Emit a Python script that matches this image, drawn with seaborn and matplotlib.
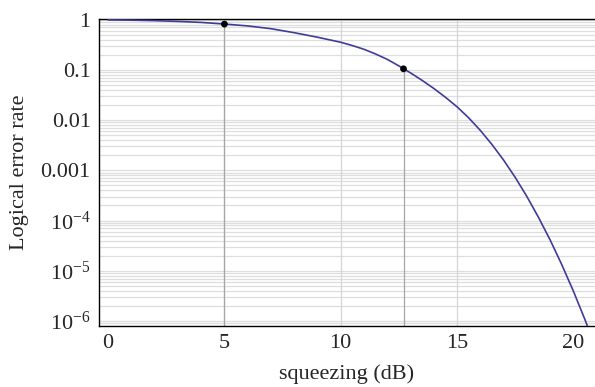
import numpy as np
import pandas as pd
import matplotlib
matplotlib.use("Agg")
import matplotlib.pyplot as plt
import matplotlib.ticker as mticker
import seaborn as sns

# values
squeezing_db = [0, 1, 2, 3, 4, 5, 6, 7, 8, 9, 10, 10.5, 11, 11.5, 12, 12.5, 13, 13.5,
                14, 14.5, 15, 15.5, 16, 16.5, 17, 17.5, 18, 18.5, 19, 19.5, 20, 20.5, 21]
error_rate = [0.989, 0.977, 0.955, 0.923, 0.881, 0.817, 0.750, 0.661, 0.550, 0.447,
              0.355, 0.305, 0.257, 0.207, 0.162, 0.120, 0.0871, 0.0617,
              0.0427, 0.0285, 0.0184, 0.0111, 6.24e-3, 3.27e-3, 1.60e-3, 7.24e-4,
              3.02e-4, 1.16e-4, 4.12e-5, 1.33e-5, 3.94e-6, 1.06e-6, 2.6e-7]
dot_db = [5, 12.7]
dot_rate = [0.817, 0.105]

x_ticks = [0, 5, 10, 15, 20]
y_ticks = [1, 0.1, 0.01, 0.001, 1e-4, 1e-5, 1e-6]
y_labels = ["1", "0.1", "0.01", "0.001", r"$10^{-4}$", r"$10^{-5}$", r"$10^{-6}$"]
x_grid = [5, 10, 15]

df = pd.DataFrame({"db": squeezing_db, "rate": error_rate})
dots = pd.DataFrame({"db": dot_db, "rate": dot_rate})

sns.set_style("white")
plt.rcParams["font.family"] = ["Liberation Serif", "DejaVu Serif"]
plt.rcParams["mathtext.fontset"] = "custom"
plt.rcParams["mathtext.rm"] = "Liberation Serif"
plt.rcParams["mathtext.it"] = "Liberation Serif:italic"

fig = plt.figure(figsize=(5.95, 3.87), dpi=100)
ax = fig.add_axes([0.1664, 0.1576, 0.8336, 0.7924])
ax.set_yscale("log")
ax.set_xlim(-0.39, 20.93)
ax.set_ylim(10**-6.1, 10**0.006)

# grid lines: every decade subdivision horizontally, a few vertical ones
for d in range(-7, 1):
    for m in range(1, 10):
        ax.axhline(m * 10.0**d, color="#dedede", lw=0.9, zorder=0)
for gx in x_grid:
    ax.axvline(gx, color="#d6d6d6", lw=0.9, zorder=0)

# drop lines from the marked points
ax.vlines(dot_db, 10**-6.1, dot_rate, color="#a6a6a6", lw=0.9, zorder=1)

sns.lineplot(data=df, x="db", y="rate", ax=ax, color="#3d3d99", lw=1.2, zorder=3)
sns.scatterplot(data=dots, x="db", y="rate", ax=ax, color="black", s=24,
                edgecolor="none", zorder=4)

ax.set_xticks(x_ticks)
ax.xaxis.set_minor_locator(mticker.MultipleLocator(1))
ax.set_yticks(y_ticks)
ax.set_yticklabels(y_labels)
ax.yaxis.set_minor_locator(mticker.LogLocator(base=10, subs=np.arange(2, 10), numticks=20))
ax.yaxis.set_minor_formatter(mticker.NullFormatter())
ax.tick_params(which="both", direction="in", labelsize=16, color="black")
ax.tick_params(which="major", length=4, width=0.8, pad=6)
ax.tick_params(which="minor", length=2.3, width=0.6)
ax.tick_params(axis="x", which="both", top=False)
ax.tick_params(axis="y", which="both", right=False)

for side in ["left", "bottom", "top"]:
    ax.spines[side].set_color("black")
    ax.spines[side].set_linewidth(1.0)
ax.spines["right"].set_visible(False)

ax.set_xlabel("squeezing (dB)", fontsize=16, labelpad=8)
ax.set_ylabel("Logical error rate", fontsize=16, labelpad=8)

fig.savefig("out.png", dpi=100)
